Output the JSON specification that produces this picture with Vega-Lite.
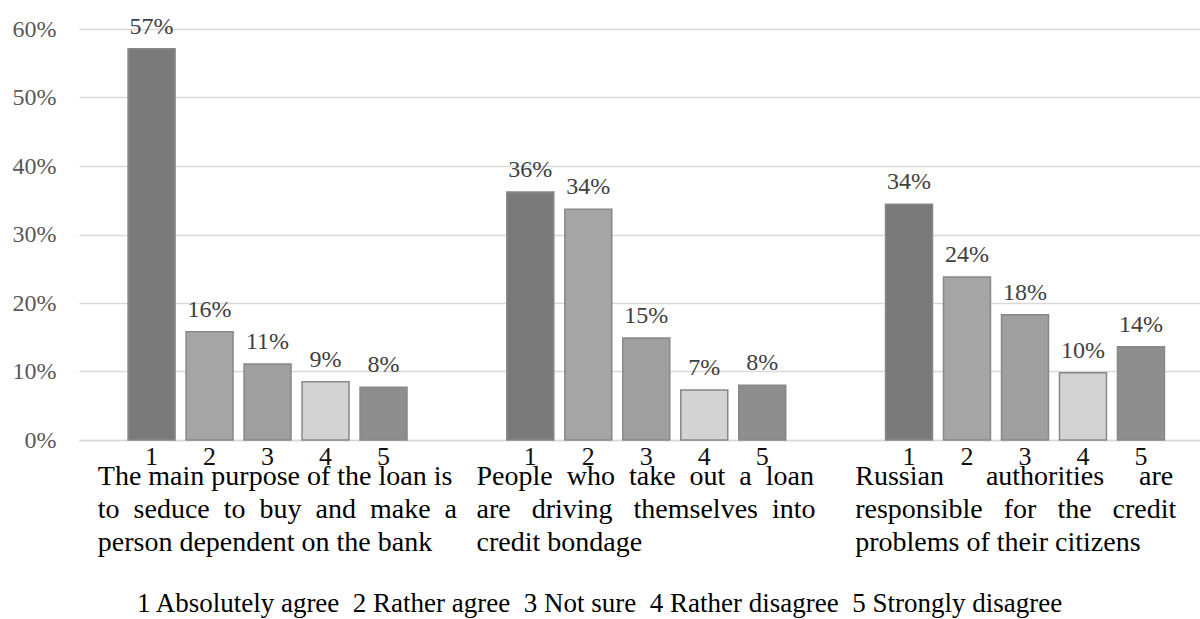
{
  "$schema": "https://vega.github.io/schema/vega-lite/v6.json",
  "width": 1121,
  "height": 411,
  "autosize": {"type": "none"},
  "padding": {"left": 79, "top": 29, "right": 0, "bottom": 179},
  "background": "white",
  "title": {
    "text": "1 Absolutely agree\u00a0 2 Rather agree\u00a0 3 Not sure\u00a0 4 Rather disagree\u00a0 5 Strongly disagree",
    "orient": "bottom",
    "anchor": "middle",
    "font": "Liberation Serif",
    "fontSize": 27,
    "fontWeight": "normal",
    "color": "#000000",
    "offset": 35,
    "dx": -40
  },
  "data": {
    "values": [
      {"statement": "The main purpose of the loan is|to\u00a0 seduce\u00a0 to\u00a0 buy\u00a0 and\u00a0 make\u00a0 a|person dependent on the bank", "answer": "1", "value": 0.571},
      {"statement": "The main purpose of the loan is|to\u00a0 seduce\u00a0 to\u00a0 buy\u00a0 and\u00a0 make\u00a0 a|person dependent on the bank", "answer": "2", "value": 0.158},
      {"statement": "The main purpose of the loan is|to\u00a0 seduce\u00a0 to\u00a0 buy\u00a0 and\u00a0 make\u00a0 a|person dependent on the bank", "answer": "3", "value": 0.111},
      {"statement": "The main purpose of the loan is|to\u00a0 seduce\u00a0 to\u00a0 buy\u00a0 and\u00a0 make\u00a0 a|person dependent on the bank", "answer": "4", "value": 0.085},
      {"statement": "The main purpose of the loan is|to\u00a0 seduce\u00a0 to\u00a0 buy\u00a0 and\u00a0 make\u00a0 a|person dependent on the bank", "answer": "5", "value": 0.077},
      {"statement": "People\u00a0 who\u00a0 take\u00a0 out\u00a0 a\u00a0 loan|are\u00a0\u00a0 driving\u00a0\u00a0 themselves\u00a0 into|credit bondage", "answer": "1", "value": 0.362},
      {"statement": "People\u00a0 who\u00a0 take\u00a0 out\u00a0 a\u00a0 loan|are\u00a0\u00a0 driving\u00a0\u00a0 themselves\u00a0 into|credit bondage", "answer": "2", "value": 0.337},
      {"statement": "People\u00a0 who\u00a0 take\u00a0 out\u00a0 a\u00a0 loan|are\u00a0\u00a0 driving\u00a0\u00a0 themselves\u00a0 into|credit bondage", "answer": "3", "value": 0.149},
      {"statement": "People\u00a0 who\u00a0 take\u00a0 out\u00a0 a\u00a0 loan|are\u00a0\u00a0 driving\u00a0\u00a0 themselves\u00a0 into|credit bondage", "answer": "4", "value": 0.073},
      {"statement": "People\u00a0 who\u00a0 take\u00a0 out\u00a0 a\u00a0 loan|are\u00a0\u00a0 driving\u00a0\u00a0 themselves\u00a0 into|credit bondage", "answer": "5", "value": 0.080},
      {"statement": "Russian\u00a0\u00a0\u00a0\u00a0\u00a0 authorities\u00a0\u00a0\u00a0\u00a0 are|responsible\u00a0\u00a0 for\u00a0\u00a0 the\u00a0\u00a0 credit|problems of their citizens", "answer": "1", "value": 0.344},
      {"statement": "Russian\u00a0\u00a0\u00a0\u00a0\u00a0 authorities\u00a0\u00a0\u00a0\u00a0 are|responsible\u00a0\u00a0 for\u00a0\u00a0 the\u00a0\u00a0 credit|problems of their citizens", "answer": "2", "value": 0.238},
      {"statement": "Russian\u00a0\u00a0\u00a0\u00a0\u00a0 authorities\u00a0\u00a0\u00a0\u00a0 are|responsible\u00a0\u00a0 for\u00a0\u00a0 the\u00a0\u00a0 credit|problems of their citizens", "answer": "3", "value": 0.183},
      {"statement": "Russian\u00a0\u00a0\u00a0\u00a0\u00a0 authorities\u00a0\u00a0\u00a0\u00a0 are|responsible\u00a0\u00a0 for\u00a0\u00a0 the\u00a0\u00a0 credit|problems of their citizens", "answer": "4", "value": 0.098},
      {"statement": "Russian\u00a0\u00a0\u00a0\u00a0\u00a0 authorities\u00a0\u00a0\u00a0\u00a0 are|responsible\u00a0\u00a0 for\u00a0\u00a0 the\u00a0\u00a0 credit|problems of their citizens", "answer": "5", "value": 0.136}
    ]
  },
  "encoding": {
    "x": {
      "field": "statement",
      "type": "nominal",
      "sort": null,
      "scale": {"paddingInner": 0.04, "paddingOuter": 0},
      "axis": {
        "title": null,
        "orient": "bottom",
        "domain": true,
        "domainColor": "#d9d9d9",
        "domainWidth": 1.5,
        "ticks": false,
        "labelAlign": "left",
        "labelBaseline": "top",
        "labelAngle": 0,
        "labelOffset": -163,
        "labelPadding": 22,
        "labelLineHeight": 33,
        "labelFont": "Liberation Serif",
        "labelFontSize": 28,
        "labelColor": "#000000",
        "labelLimit": 800,
        "labelOverlap": false,
        "labelExpr": "split(datum.label, '|')"
      }
    },
    "xOffset": {
      "field": "answer",
      "type": "nominal",
      "scale": {"paddingInner": 0.19, "paddingOuter": 0.73, "align": 0.58}
    }
  },
  "layer": [
    {
      "mark": {"type": "bar", "stroke": "#888888", "strokeWidth": 1.5},
      "encoding": {
        "y": {
          "field": "value",
          "type": "quantitative",
          "scale": {"domain": [0, 0.6]},
          "axis": {
            "title": null,
            "values": [0, 0.1, 0.2, 0.3, 0.4, 0.5, 0.6],
            "format": ".0%",
            "domain": false,
            "ticks": false,
            "grid": true,
            "gridColor": "#d9d9d9",
            "gridWidth": 1.5,
            "labelPadding": 23,
            "labelFont": "Liberation Serif",
            "labelFontSize": 24,
            "labelColor": "#595959"
          }
        },
        "fill": {
          "field": "answer",
          "type": "nominal",
          "scale": {"domain": ["1", "2", "3", "4", "5"], "range": ["#7a7a7a", "#a5a5a5", "#9f9f9f", "#d3d3d3", "#8e8e8e"]},
          "legend": null
        }
      }
    },
    {
      "mark": {"type": "text", "baseline": "alphabetic", "dy": -15, "font": "Liberation Serif", "fontSize": 24, "color": "#404040"},
      "encoding": {
        "y": {"field": "value", "type": "quantitative"},
        "text": {"field": "value", "type": "quantitative", "format": ".0%"}
      }
    },
    {
      "mark": {"type": "text", "baseline": "top", "dy": 4, "font": "Liberation Serif", "fontSize": 26, "color": "#111111"},
      "encoding": {
        "y": {"datum": 0, "type": "quantitative"},
        "text": {"field": "answer", "type": "nominal"}
      }
    }
  ],
  "config": {"view": {"stroke": null}}
}
